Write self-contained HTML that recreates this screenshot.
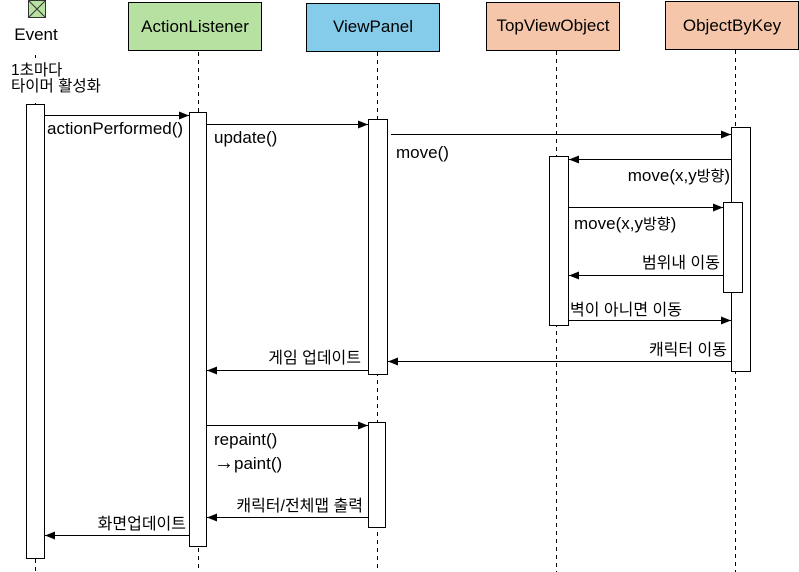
<!DOCTYPE html>
<html><head><meta charset="utf-8"><style>
html,body{margin:0;padding:0;background:#fff;}
svg{display:block;}
text{font-family:"Liberation Sans","Noto Sans CJK KR",sans-serif;fill:#000;}
.big{font-size:17px;}
.med{font-size:15px;}
.sm{font-size:14px;}
.ko{font-size:16px;}
</style></head><body>
<svg width="799" height="572" viewBox="0 0 799 572" xmlns="http://www.w3.org/2000/svg">
<defs><marker id="a" markerWidth="10" markerHeight="8" refX="10" refY="4" orient="auto" markerUnits="userSpaceOnUse"><path d="M0,0 L10,4 L0,8 z" fill="#000"/></marker></defs>
<g stroke="#000" stroke-width="1" stroke-dasharray="4,4" fill="none">
<line x1="35.5" y1="55" x2="35.5" y2="572"/>
<line x1="198.5" y1="52" x2="198.5" y2="572"/>
<line x1="377.5" y1="52" x2="377.5" y2="572"/>
<line x1="556.5" y1="51" x2="556.5" y2="572"/>
<line x1="735.5" y1="50" x2="735.5" y2="572"/>
</g>
<rect x="0" y="58" width="110" height="42" fill="#fff"/>
<rect x="28.5" y="0.5" width="17" height="17" fill="#b7e1a1" stroke="#333"/>
<path d="M28.5 0.5 L45.5 17.5 M45.5 0.5 L28.5 17.5" stroke="#333"/>
<text x="36" y="40" class="big" text-anchor="middle">Event</text>
<text x="11" y="75" class="ko" style="font-size:15.5px">1초마다</text>
<text x="11" y="91" class="ko" style="font-size:15.5px">타이머 활성화</text>
<rect x="128.5" y="2.5" width="133" height="48" fill="#b7e1a1" stroke="#000"/>
<text x="195" y="32" class="big" text-anchor="middle">ActionListener</text>
<rect x="306.5" y="3.5" width="133" height="48" fill="#85cbea" stroke="#000"/>
<text x="373" y="32" class="big" text-anchor="middle">ViewPanel</text>
<rect x="486.5" y="2.5" width="133" height="48" fill="#f5c6a9" stroke="#000"/>
<text x="553" y="31" class="big" text-anchor="middle">TopViewObject</text>
<rect x="665.5" y="1.5" width="133" height="48" fill="#f5c6a9" stroke="#000"/>
<text x="732" y="31" class="big" text-anchor="middle">ObjectByKey</text>
<g fill="#fff" stroke="#000">
<rect x="26.5" y="104.5" width="18" height="454"/>
<rect x="189.5" y="112.5" width="17" height="434"/>
<rect x="368.5" y="119.5" width="19" height="255"/>
<rect x="368.5" y="422.5" width="17" height="105"/>
<rect x="549.5" y="156.5" width="19" height="169"/>
<rect x="731.5" y="127.5" width="19" height="244"/>
<rect x="723.5" y="202.5" width="19" height="90"/>
</g>
<g stroke="#000" marker-end="url(#a)">
<line x1="45" y1="115.5" x2="189" y2="115.5"/>
<line x1="207" y1="124.5" x2="368" y2="124.5"/>
<line x1="391" y1="134.5" x2="731" y2="134.5"/>
<line x1="731" y1="159.5" x2="569" y2="159.5"/>
<line x1="569" y1="207.5" x2="723" y2="207.5"/>
<line x1="723" y1="275.5" x2="569" y2="275.5"/>
<line x1="569" y1="320.5" x2="731" y2="320.5"/>
<line x1="731" y1="361.5" x2="388" y2="361.5"/>
<line x1="368" y1="370.5" x2="207" y2="370.5"/>
<line x1="207" y1="425.5" x2="368" y2="425.5"/>
<line x1="368" y1="517.5" x2="207" y2="517.5"/>
<line x1="189" y1="535.5" x2="45" y2="535.5"/>
</g>
<text x="47" y="134" class="big">actionPerformed()</text>
<text x="214" y="143" class="big">update()</text>
<text x="396" y="158" class="big">move()</text>
<text x="730" y="181" class="big" text-anchor="end">move(x,y<tspan class="med">방향</tspan>)</text>
<text x="574" y="229" class="big">move(x,y<tspan class="med">방향</tspan>)</text>
<text x="720" y="268" class="ko" text-anchor="end">범위내 이동</text>
<text x="570" y="315" class="ko">벽이 아니면 이동</text>
<text x="727" y="355" class="ko" text-anchor="end">캐릭터 이동</text>
<text x="361" y="363" class="ko" text-anchor="end">게임 업데이트</text>
<text x="214" y="445" class="big">repaint()</text>
<text x="214" y="469" class="big"><tspan style="font-size:20px">→</tspan>paint()</text>
<text x="363" y="511" class="ko" text-anchor="end">캐릭터/전체맵 출력</text>
<text x="186" y="529" class="ko" text-anchor="end">화면업데이트</text>
</svg>
</body></html>
